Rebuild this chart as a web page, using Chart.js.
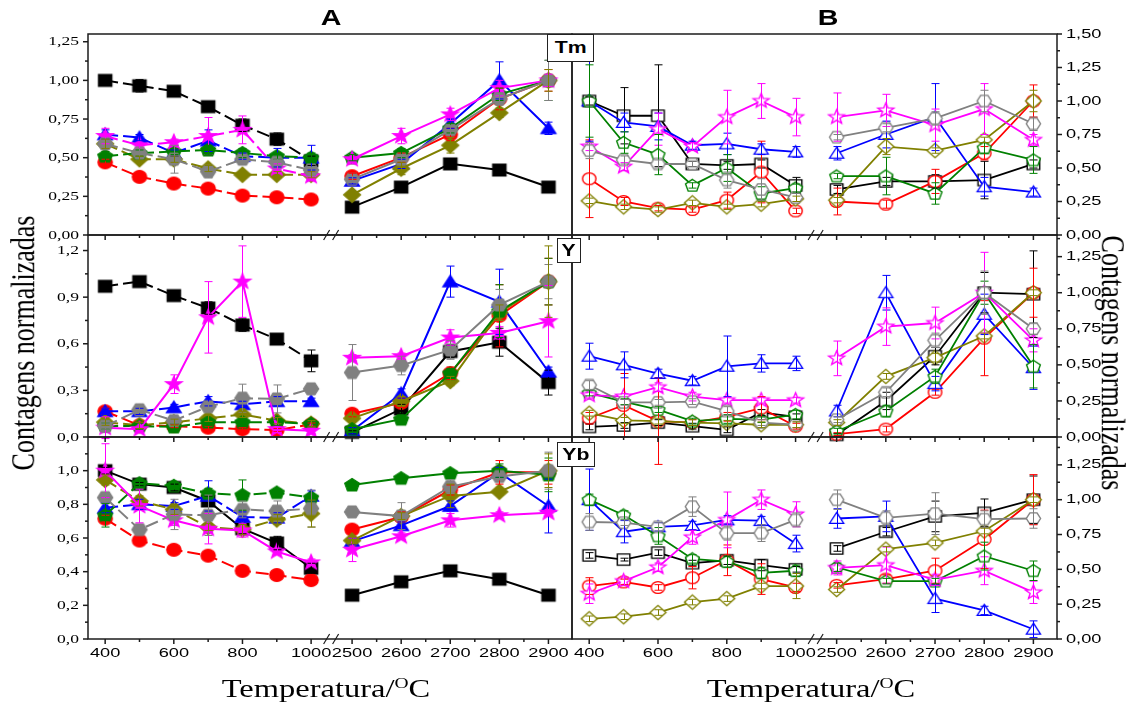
<!DOCTYPE html>
<html lang="pt">
<head>
<meta charset="utf-8">
<title>Contagens normalizadas vs Temperatura</title>
<script src="https://cdn.jsdelivr.net/npm/chart.js"></script>
<style>
html,body{margin:0;padding:0;background:#fff;}
body{width:1134px;height:702px;position:relative;overflow:hidden;}
canvas{position:absolute;left:0;top:0;}
.serif{position:absolute;font-family:"Liberation Serif","Times New Roman",serif;color:#000;white-space:nowrap;text-align:center;}
.sup{position:relative;top:-9px;font-size:15px;line-height:0;}
.head{position:absolute;font-family:"Liberation Sans",Arial,sans-serif;font-weight:bold;font-size:22px;line-height:26px;text-align:center;transform:scaleX(1.3);}
.box{position:absolute;background:#fff;border:1.3px solid #222;font-family:"Liberation Sans",Arial,sans-serif;font-weight:bold;font-size:17px;display:flex;align-items:center;justify-content:center;box-sizing:border-box;z-index:5;}
.box span{display:inline-block;transform:scaleX(1.25);}
</style>
</head>
<body>
<canvas id="c0" width="1134" height="702"></canvas>
<canvas id="c1" width="1134" height="702"></canvas>
<canvas id="c2" width="1134" height="702"></canvas>
<canvas id="c3" width="1134" height="702"></canvas>
<canvas id="c4" width="1134" height="702"></canvas>
<canvas id="c5" width="1134" height="702"></canvas>

<div class="head" style="left:301px;top:5px;width:60px;">A</div>
<div class="head" style="left:798px;top:5px;width:60px;">B</div>
<div class="box" style="left:547px;top:34px;width:47px;height:28px;"><span>Tm</span></div>
<div class="box" style="left:557px;top:238px;width:24px;height:25px;"><span>Y</span></div>
<div class="box" style="left:557px;top:442px;width:38px;height:25px;"><span>Yb</span></div>
<div class="serif" style="left:176px;top:672px;width:300px;height:34px;line-height:34px;font-size:25px;transform:scaleX(1.3);">Temperatura/<span class="sup">O</span>C</div>
<div class="serif" style="left:661px;top:672px;width:300px;height:34px;line-height:34px;font-size:25px;transform:scaleX(1.3);">Temperatura/<span class="sup">O</span>C</div>
<div class="serif" style="left:-126px;top:327px;width:300px;height:32px;line-height:32px;font-size:26px;transform:rotate(-90deg) scale(1,1.3);">Contagens normalizadas</div>
<div class="serif" style="left:962px;top:347px;width:300px;height:32px;line-height:32px;font-size:26px;transform:rotate(90deg) scale(1,1.3);">Contagens normalizadas</div>

<script>
// ---------------- DATA ----------------
const TEMPS_LOW  = [400, 500, 600, 700, 800, 900, 1000];
const TEMPS_HIGH = [2500, 2600, 2700, 2800, 2900];
const XTICK_LABELS_LOW  = ['400', '600', '800', '1000'];
const XTICK_LABELS_HIGH = ['2500', '2600', '2700', '2800', '2900'];
const XMINOR_LOW  = [500, 700, 900];
const XMINOR_HIGH = [2550, 2650, 2750, 2850];

const TM_A_YLABELS = ['0,00', '0,25', '0,50', '0,75', '1,00', '1,25'];
const TM_B_YLABELS = ['0,00', '0,25', '0,50', '0,75', '1,00', '1,25', '1,50'];
const Y_A_YLABELS  = ['0,0', '0,3', '0,6', '0,9', '1,2'];
const Y_B_YLABELS  = ['0,00', '0,25', '0,50', '0,75', '1,00', '1,25'];
const YB_A_YLABELS = ['0,0', '0,2', '0,4', '0,6', '0,8', '1,0'];
const YB_B_YLABELS = ['0,00', '0,25', '0,50', '0,75', '1,00', '1,25'];

// values: 7 low-temperature points followed by 5 high-temperature points
// --- Tm, panel A
const TM_A_SQUARE   = [1.00, 0.965, 0.93, 0.83, 0.71, 0.62, 0.48,  0.18, 0.31, 0.46, 0.42, 0.31];
const TM_A_SQUARE_ERR   = [0.01, 0.04, 0.02, 0.02, 0.04, 0.04, 0.03,  0.01, 0.01, 0.02, 0.02, 0.02];
const TM_A_CIRCLE   = [0.47, 0.376, 0.333, 0.30, 0.255, 0.244, 0.23,  0.38, 0.50, 0.65, 0.88, 1.00];
const TM_A_CIRCLE_ERR   = [0.02, 0.01, 0.01, 0.01, 0.01, 0.01, 0.01,  0.02, 0.03, 0.04, 0.07, 0.07];
const TM_A_TRIANGLE = [0.65, 0.63, 0.53, 0.61, 0.51, 0.50, 0.50,  0.35, 0.46, 0.72, 1.00, 0.69];
const TM_A_TRIANGLE_ERR = [0.03, 0.02, 0.02, 0.07, 0.02, 0.06, 0.08,  0.02, 0.03, 0.03, 0.12, 0.04];
const TM_A_STAR     = [0.64, 0.58, 0.60, 0.64, 0.68, 0.43, 0.38,  0.49, 0.64, 0.78, 0.95, 1.00];
const TM_A_STAR_ERR     = [0.05, 0.02, 0.02, 0.12, 0.09, 0.03, 0.03,  0.03, 0.05, 0.04, 0.05, 0.04];
const TM_A_PENTAGON = [0.51, 0.53, 0.54, 0.55, 0.53, 0.51, 0.50,  0.50, 0.53, 0.69, 0.91, 1.00];
const TM_A_PENTAGON_ERR = [0.03, 0.02, 0.02, 0.03, 0.03, 0.02, 0.03,  0.02, 0.03, 0.03, 0.04, 0.13];
const TM_A_HEXAGON  = [0.59, 0.53, 0.49, 0.41, 0.49, 0.47, 0.42,  0.36, 0.49, 0.68, 0.88, 1.00];
const TM_A_HEXAGON_ERR  = [0.03, 0.03, 0.09, 0.04, 0.02, 0.02, 0.02,  0.02, 0.03, 0.03, 0.04, 0.13];
const TM_A_DIAMOND  = [0.59, 0.49, 0.49, 0.43, 0.39, 0.39, 0.39,  0.26, 0.43, 0.58, 0.79, 1.00];
const TM_A_DIAMOND_ERR  = [0.03, 0.02, 0.02, 0.02, 0.02, 0.02, 0.02,  0.02, 0.04, 0.05, 0.03, 0.07];
// --- Tm, panel B
const TM_B_SQUARE   = [1.00, 0.89, 0.89, 0.53, 0.52, 0.53, 0.37,  0.34, 0.40, 0.40, 0.41, 0.53];
const TM_B_SQUARE_ERR   = [0.03, 0.21, 0.38, 0.02, 0.03, 0.03, 0.06,  0.03, 0.03, 0.05, 0.14, 0.03];
const TM_B_CIRCLE   = [0.42, 0.25, 0.20, 0.19, 0.26, 0.47, 0.18,  0.25, 0.23, 0.40, 0.61, 1.00];
const TM_B_CIRCLE_ERR   = [0.29, 0.03, 0.02, 0.02, 0.06, 0.23, 0.02,  0.10, 0.03, 0.09, 0.05, 0.12];
const TM_B_TRIANGLE = [1.00, 0.84, 0.81, 0.67, 0.68, 0.64, 0.62,  0.61, 0.75, 0.88, 0.36, 0.32];
const TM_B_TRIANGLE_ERR = [0.30, 0.07, 0.10, 0.03, 0.08, 0.04, 0.04,  0.05, 0.10, 0.25, 0.07, 0.03];
const TM_B_STAR     = [0.66, 0.51, 0.79, 0.66, 0.88, 1.00, 0.88,  0.88, 0.93, 0.82, 0.94, 0.71];
const TM_B_STAR_ERR     = [0.03, 0.03, 0.12, 0.03, 0.20, 0.13, 0.14,  0.18, 0.12, 0.12, 0.19, 0.04];
const TM_B_PENTAGON = [1.00, 0.69, 0.60, 0.37, 0.50, 0.31, 0.35,  0.44, 0.44, 0.31, 0.65, 0.56];
const TM_B_PENTAGON_ERR = [0.27, 0.08, 0.15, 0.02, 0.10, 0.05, 0.03,  0.02, 0.14, 0.08, 0.04, 0.10];
const TM_B_HEXAGON  = [0.63, 0.56, 0.53, 0.53, 0.41, 0.34, 0.28,  0.73, 0.80, 0.87, 1.00, 0.83];
const TM_B_HEXAGON_ERR  = [0.06, 0.03, 0.03, 0.02, 0.06, 0.08, 0.03,  0.02, 0.03, 0.05, 0.08, 0.05];
const TM_B_DIAMOND  = [0.255, 0.21, 0.19, 0.24, 0.21, 0.23, 0.27,  0.26, 0.66, 0.63, 0.71, 1.00];
const TM_B_DIAMOND_ERR  = [0.02, 0.02, 0.02, 0.02, 0.02, 0.02, 0.02,  0.02, 0.06, 0.02, 0.02, 0.08];
// --- Y, panel A
const Y_A_SQUARE   = [0.97, 1.00, 0.91, 0.83, 0.72, 0.63, 0.49,  0.03, 0.18, 0.55, 0.61, 0.35];
const Y_A_SQUARE_ERR   = [0.01, 0.01, 0.01, 0.04, 0.04, 0.01, 0.07,  0.01, 0.03, 0.04, 0.09, 0.08];
const Y_A_CIRCLE   = [0.165, 0.075, 0.07, 0.06, 0.05, 0.045, 0.08,  0.15, 0.22, 0.41, 0.78, 1.00];
const Y_A_CIRCLE_ERR   = [0.02, 0.02, 0.01, 0.01, 0.01, 0.01, 0.01,  0.02, 0.03, 0.04, 0.20, 0.15];
const Y_A_TRIANGLE = [0.165, 0.165, 0.19, 0.23, 0.21, 0.23, 0.23,  0.04, 0.28, 1.00, 0.87, 0.42];
const Y_A_TRIANGLE_ERR = [0.02, 0.02, 0.02, 0.03, 0.02, 0.03, 0.02,  0.02, 0.03, 0.10, 0.21, 0.03];
const Y_A_STAR     = [0.06, 0.05, 0.34, 0.77, 1.00, 0.05, 0.04,  0.51, 0.52, 0.64, 0.67, 0.745];
const Y_A_STAR_ERR     = [0.07, 0.02, 0.06, 0.23, 0.23, 0.02, 0.02,  0.02, 0.02, 0.05, 0.04, 0.23];
const Y_A_PENTAGON = [0.07, 0.07, 0.065, 0.095, 0.095, 0.095, 0.085,  0.05, 0.115, 0.41, 0.81, 1.00];
const Y_A_PENTAGON_ERR = [0.02, 0.02, 0.02, 0.02, 0.02, 0.02, 0.02,  0.02, 0.02, 0.03, 0.17, 0.15];
const Y_A_HEXAGON  = [0.07, 0.175, 0.105, 0.195, 0.25, 0.245, 0.31,  0.415, 0.46, 0.56, 0.85, 1.00];
const Y_A_HEXAGON_ERR  = [0.02, 0.02, 0.02, 0.03, 0.09, 0.09, 0.02,  0.18, 0.06, 0.06, 0.10, 0.11];
const Y_A_DIAMOND  = [0.095, 0.075, 0.095, 0.12, 0.145, 0.105, 0.085,  0.12, 0.23, 0.36, 0.80, 1.00];
const Y_A_DIAMOND_ERR  = [0.02, 0.02, 0.02, 0.02, 0.02, 0.02, 0.02,  0.02, 0.03, 0.03, 0.05, 0.23];
// --- Y, panel B
const Y_B_SQUARE   = [0.07, 0.08, 0.10, 0.075, 0.05, 0.17, 0.14,  0.015, 0.25, 0.56, 1.00, 0.99];
const Y_B_SQUARE_ERR   = [0.02, 0.02, 0.02, 0.02, 0.02, 0.02, 0.02,  0.01, 0.06, 0.06, 0.14, 0.30];
const Y_B_CIRCLE   = [0.13, 0.22, 0.11, 0.10, 0.14, 0.20, 0.075,  0.02, 0.055, 0.31, 0.685, 1.00];
const Y_B_CIRCLE_ERR   = [0.04, 0.22, 0.30, 0.02, 0.03, 0.08, 0.02,  0.01, 0.02, 0.02, 0.26, 0.17];
const Y_B_TRIANGLE = [0.56, 0.50, 0.44, 0.39, 0.49, 0.51, 0.51,  0.18, 1.00, 0.37, 0.85, 0.48];
const Y_B_TRIANGLE_ERR = [0.09, 0.09, 0.03, 0.03, 0.21, 0.06, 0.05,  0.04, 0.12, 0.05, 0.14, 0.15];
const Y_B_STAR     = [0.29, 0.28, 0.345, 0.28, 0.255, 0.255, 0.255,  0.545, 0.765, 0.79, 1.00, 0.67];
const Y_B_STAR_ERR     = [0.02, 0.02, 0.03, 0.03, 0.02, 0.02, 0.02,  0.12, 0.13, 0.11, 0.28, 0.08];
const Y_B_PENTAGON = [0.305, 0.245, 0.19, 0.11, 0.125, 0.12, 0.155,  0.04, 0.18, 0.42, 1.00, 0.49];
const Y_B_PENTAGON_ERR = [0.02, 0.02, 0.02, 0.02, 0.03, 0.02, 0.03,  0.02, 0.04, 0.05, 0.08, 0.15];
const Y_B_HEXAGON  = [0.36, 0.24, 0.24, 0.245, 0.18, 0.10, 0.085,  0.12, 0.31, 0.67, 1.00, 0.75];
const Y_B_HEXAGON_ERR  = [0.03, 0.02, 0.02, 0.02, 0.03, 0.02, 0.02,  0.02, 0.03, 0.05, 0.15, 0.04];
const Y_B_DIAMOND  = [0.165, 0.115, 0.11, 0.10, 0.095, 0.085, 0.085,  0.10, 0.42, 0.55, 0.70, 1.00];
const Y_B_DIAMOND_ERR  = [0.02, 0.02, 0.02, 0.02, 0.02, 0.02, 0.02,  0.02, 0.02, 0.03, 0.02, 0.02];
// --- Yb, panel A
const YB_A_SQUARE   = [1.00, 0.92, 0.90, 0.82, 0.655, 0.57, 0.42,  0.26, 0.34, 0.405, 0.355, 0.26];
const YB_A_SQUARE_ERR   = [0.02, 0.01, 0.02, 0.03, 0.03, 0.04, 0.03,  0.01, 0.01, 0.01, 0.03, 0.01];
const YB_A_CIRCLE   = [0.715, 0.585, 0.53, 0.495, 0.405, 0.38, 0.35,  0.65, 0.725, 0.885, 0.99, 0.99];
const YB_A_CIRCLE_ERR   = [0.02, 0.01, 0.01, 0.01, 0.01, 0.01, 0.01,  0.01, 0.03, 0.03, 0.07, 0.07];
const YB_A_TRIANGLE = [0.78, 0.80, 0.79, 0.85, 0.725, 0.72, 0.85,  0.58, 0.675, 0.79, 0.99, 0.79];
const YB_A_TRIANGLE_ERR = [0.03, 0.03, 0.02, 0.09, 0.03, 0.03, 0.03,  0.02, 0.02, 0.03, 0.03, 0.16];
const YB_A_STAR     = [1.00, 0.79, 0.705, 0.655, 0.645, 0.52, 0.455,  0.53, 0.61, 0.705, 0.735, 0.75];
const YB_A_STAR_ERR     = [0.16, 0.10, 0.03, 0.09, 0.04, 0.02, 0.02,  0.07, 0.02, 0.04, 0.02, 0.02];
const YB_A_PENTAGON = [0.735, 0.925, 0.91, 0.865, 0.855, 0.87, 0.84,  0.915, 0.955, 0.985, 1.00, 0.975];
const YB_A_PENTAGON_ERR = [0.07, 0.02, 0.02, 0.03, 0.09, 0.02, 0.02,  0.02, 0.01, 0.02, 0.04, 0.10];
const YB_A_HEXAGON  = [0.84, 0.65, 0.74, 0.735, 0.77, 0.76, 0.775,  0.755, 0.73, 0.905, 0.965, 1.00];
const YB_A_HEXAGON_ERR  = [0.03, 0.02, 0.09, 0.12, 0.05, 0.06, 0.11,  0.02, 0.08, 0.04, 0.02, 0.11];
const YB_A_DIAMOND  = [0.945, 0.82, 0.77, 0.665, 0.65, 0.71, 0.745,  0.585, 0.73, 0.85, 0.875, 1.00];
const YB_A_DIAMOND_ERR  = [0.03, 0.03, 0.03, 0.02, 0.03, 0.03, 0.08,  0.02, 0.02, 0.07, 0.02, 0.10];
// --- Yb, panel B
const YB_B_SQUARE   = [0.60, 0.57, 0.62, 0.545, 0.565, 0.53, 0.50,  0.65, 0.77, 0.88, 0.905, 1.00];
const YB_B_SQUARE_ERR   = [0.02, 0.01, 0.02, 0.02, 0.03, 0.04, 0.02,  0.02, 0.03, 0.11, 0.10, 0.17];
const YB_B_CIRCLE   = [0.38, 0.41, 0.37, 0.44, 0.565, 0.43, 0.37,  0.385, 0.43, 0.49, 0.715, 1.00];
const YB_B_CIRCLE_ERR   = [0.06, 0.02, 0.02, 0.08, 0.11, 0.11, 0.03,  0.02, 0.03, 0.09, 0.21, 0.18];
const YB_B_TRIANGLE = [1.00, 0.77, 0.805, 0.815, 0.855, 0.85, 0.685,  0.865, 0.88, 0.29, 0.205, 0.07];
const YB_B_TRIANGLE_ERR = [0.22, 0.08, 0.03, 0.03, 0.03, 0.03, 0.06,  0.07, 0.11, 0.10, 0.03, 0.06];
const YB_B_STAR     = [0.325, 0.415, 0.515, 0.73, 0.855, 1.00, 0.895,  0.51, 0.53, 0.425, 0.49, 0.335];
const YB_B_STAR_ERR     = [0.07, 0.03, 0.03, 0.05, 0.20, 0.07, 0.09,  0.05, 0.13, 0.04, 0.10, 0.08];
const YB_B_PENTAGON = [1.00, 0.89, 0.74, 0.575, 0.555, 0.475, 0.49,  0.515, 0.415, 0.415, 0.595, 0.49];
const YB_B_PENTAGON_ERR = [0.04, 0.03, 0.06, 0.03, 0.04, 0.04, 0.04,  0.03, 0.02, 0.02, 0.10, 0.07];
const YB_B_HEXAGON  = [0.84, 0.835, 0.805, 0.95, 0.76, 0.76, 0.855,  1.00, 0.87, 0.90, 0.86, 0.865];
const YB_B_HEXAGON_ERR  = [0.06, 0.02, 0.03, 0.07, 0.05, 0.06, 0.05,  0.07, 0.05, 0.15, 0.06, 0.07];
const YB_B_DIAMOND  = [0.145, 0.16, 0.19, 0.265, 0.29, 0.38, 0.38,  0.355, 0.645, 0.69, 0.775, 1.00];
const YB_B_DIAMOND_ERR  = [0.02, 0.02, 0.02, 0.02, 0.02, 0.02, 0.09,  0.02, 0.02, 0.02, 0.02, 0.02];

// ---------------- STYLE ----------------
const SERIES_KEYS = ['square', 'circle', 'triangle', 'star', 'pentagon', 'hexagon', 'diamond'];
const SERIES_COLORS = {square:'#000000', circle:'#ff0000', triangle:'#0000ff', star:'#ff00ff',
                       pentagon:'#008000', hexagon:'#808080', diamond:'#808000'};
const DRAW_RANK = {square:0, circle:1, triangle:2, diamond:3, pentagon:4, star:5, hexagon:6};
const AXIS_COLOR = '#1c1c1c';

const PANELS = [
  {rect:[88, 34, 572, 235],   yMax:1.30, yLabels:TM_A_YLABELS, side:'left',  open:false, xLabels:false, solidLow:[],
   vals:{square:TM_A_SQUARE, circle:TM_A_CIRCLE, triangle:TM_A_TRIANGLE, star:TM_A_STAR, pentagon:TM_A_PENTAGON, hexagon:TM_A_HEXAGON, diamond:TM_A_DIAMOND},
   errs:{square:TM_A_SQUARE_ERR, circle:TM_A_CIRCLE_ERR, triangle:TM_A_TRIANGLE_ERR, star:TM_A_STAR_ERR, pentagon:TM_A_PENTAGON_ERR, hexagon:TM_A_HEXAGON_ERR, diamond:TM_A_DIAMOND_ERR}},
  {rect:[572, 34, 1057, 235], yMax:1.50, yLabels:TM_B_YLABELS, side:'right', open:true, xLabels:false, solidLow:[],
   vals:{square:TM_B_SQUARE, circle:TM_B_CIRCLE, triangle:TM_B_TRIANGLE, star:TM_B_STAR, pentagon:TM_B_PENTAGON, hexagon:TM_B_HEXAGON, diamond:TM_B_DIAMOND},
   errs:{square:TM_B_SQUARE_ERR, circle:TM_B_CIRCLE_ERR, triangle:TM_B_TRIANGLE_ERR, star:TM_B_STAR_ERR, pentagon:TM_B_PENTAGON_ERR, hexagon:TM_B_HEXAGON_ERR, diamond:TM_B_DIAMOND_ERR}},
  {rect:[88, 235, 572, 437],  yMax:1.30, yLabels:Y_A_YLABELS, side:'left',  open:false, xLabels:false, solidLow:['star'],
   vals:{square:Y_A_SQUARE, circle:Y_A_CIRCLE, triangle:Y_A_TRIANGLE, star:Y_A_STAR, pentagon:Y_A_PENTAGON, hexagon:Y_A_HEXAGON, diamond:Y_A_DIAMOND},
   errs:{square:Y_A_SQUARE_ERR, circle:Y_A_CIRCLE_ERR, triangle:Y_A_TRIANGLE_ERR, star:Y_A_STAR_ERR, pentagon:Y_A_PENTAGON_ERR, hexagon:Y_A_HEXAGON_ERR, diamond:Y_A_DIAMOND_ERR}},
  {rect:[572, 235, 1057, 437], yMax:1.40, yLabels:Y_B_YLABELS, side:'right', open:true, xLabels:false, solidLow:[],
   vals:{square:Y_B_SQUARE, circle:Y_B_CIRCLE, triangle:Y_B_TRIANGLE, star:Y_B_STAR, pentagon:Y_B_PENTAGON, hexagon:Y_B_HEXAGON, diamond:Y_B_DIAMOND},
   errs:{square:Y_B_SQUARE_ERR, circle:Y_B_CIRCLE_ERR, triangle:Y_B_TRIANGLE_ERR, star:Y_B_STAR_ERR, pentagon:Y_B_PENTAGON_ERR, hexagon:Y_B_HEXAGON_ERR, diamond:Y_B_DIAMOND_ERR}},
  {rect:[88, 437, 572, 639],  yMax:1.20, yLabels:YB_A_YLABELS, side:'left',  open:false, xLabels:true, solidLow:['star', 'square'],
   vals:{square:YB_A_SQUARE, circle:YB_A_CIRCLE, triangle:YB_A_TRIANGLE, star:YB_A_STAR, pentagon:YB_A_PENTAGON, hexagon:YB_A_HEXAGON, diamond:YB_A_DIAMOND},
   errs:{square:YB_A_SQUARE_ERR, circle:YB_A_CIRCLE_ERR, triangle:YB_A_TRIANGLE_ERR, star:YB_A_STAR_ERR, pentagon:YB_A_PENTAGON_ERR, hexagon:YB_A_HEXAGON_ERR, diamond:YB_A_DIAMOND_ERR}},
  {rect:[572, 437, 1057, 639], yMax:1.45, yLabels:YB_B_YLABELS, side:'right', open:true, xLabels:true, solidLow:[],
   vals:{square:YB_B_SQUARE, circle:YB_B_CIRCLE, triangle:YB_B_TRIANGLE, star:YB_B_STAR, pentagon:YB_B_PENTAGON, hexagon:YB_B_HEXAGON, diamond:YB_B_DIAMOND},
   errs:{square:YB_B_SQUARE_ERR, circle:YB_B_CIRCLE_ERR, triangle:YB_B_TRIANGLE_ERR, star:YB_B_STAR_ERR, pentagon:YB_B_PENTAGON_ERR, hexagon:YB_B_HEXAGON_ERR, diamond:YB_B_DIAMOND_ERR}}
];

// ---------------- MARKERS ----------------
function makeMarker(shape, color, open, size) {
  const S = Math.ceil(size * 1.4) + 4;
  const c = document.createElement('canvas');
  c.width = S; c.height = S;
  const g = c.getContext('2d');
  g.translate(S / 2, S / 2);
  g.scale(1.12, 1);
  const r = size / 2;
  const poly = (n, rad, rot) => {
    for (let k = 0; k < n; k++) {
      const t = rot + k * 2 * Math.PI / n;
      const px = rad * Math.cos(t), py = rad * Math.sin(t);
      if (k) g.lineTo(px, py); else g.moveTo(px, py);
    }
    g.closePath();
  };
  g.beginPath();
  switch (shape) {
    case 'square': g.rect(-r * 0.86, -r * 0.86, r * 1.72, r * 1.72); break;
    case 'circle': g.arc(0, 0, r * 0.92, 0, Math.PI * 2); break;
    case 'triangle': g.translate(0, r * 0.18); poly(3, r * 1.12, -Math.PI / 2); break;
    case 'star':
      for (let k = 0; k < 10; k++) {
        const t = -Math.PI / 2 + k * Math.PI / 5;
        const rad = k % 2 ? r * 0.48 : r * 1.15;
        const px = rad * Math.cos(t), py = rad * Math.sin(t);
        if (k) g.lineTo(px, py); else g.moveTo(px, py);
      }
      g.closePath(); break;
    case 'pentagon': g.translate(0, r * 0.06); poly(5, r * 1.0, -Math.PI / 2); break;
    case 'hexagon': poly(6, r * 0.98, 0); break;
    case 'diamond': poly(4, r * 1.1, -Math.PI / 2); break;
  }
  g.fillStyle = open ? '#ffffff' : color;
  g.fill();
  g.lineWidth = open ? 1.25 : 1;
  g.strokeStyle = color;
  g.stroke();
  return c;
}

// ---------------- PLUGINS ----------------
function stretchedText(ctx, txt, x, y, align, font, sx) {
  ctx.save();
  ctx.font = font;
  ctx.textAlign = align;
  ctx.textBaseline = 'middle';
  ctx.translate(x, y);
  ctx.scale(sx, 1);
  ctx.fillText(txt, 0, 0);
  ctx.restore();
}

const errorBarPlugin = {
  id: 'errorBars',
  afterDatasetsDraw(chart) {
    const ctx = chart.ctx, ys = chart.scales.y;
    ctx.save();
    ctx.lineWidth = 1;
    chart.data.datasets.forEach(ds => {
      if (!ds.errors) return;
      const xs = chart.scales[ds.xAxisID];
      ctx.strokeStyle = ds.borderColor;
      ds.data.forEach((p, j) => {
        const e = ds.errors[j];
        if (!e) return;
        const px = Math.round(xs.getPixelForValue(p.x)) + 0.5;
        const y1 = ys.getPixelForValue(p.y + e), y2 = ys.getPixelForValue(p.y - e);
        ctx.beginPath();
        ctx.moveTo(px, y1); ctx.lineTo(px, y2);
        ctx.moveTo(px - 4, y1); ctx.lineTo(px + 4, y1);
        ctx.moveTo(px - 4, y2); ctx.lineTo(px + 4, y2);
        ctx.stroke();
      });
    });
    ctx.restore();
  }
};

const framePlugin = {
  id: 'panelFrame',
  afterDraw(chart, args, o) {
    const ctx = chart.ctx, a = chart.chartArea;
    const ys = chart.scales.y, xl = chart.scales.xL, xr = chart.scales.xR;
    const seg = (x1, y1, x2, y2) => { ctx.beginPath(); ctx.moveTo(x1, y1); ctx.lineTo(x2, y2); ctx.stroke(); };
    ctx.save();
    ctx.strokeStyle = AXIS_COLOR;
    ctx.fillStyle = '#000';
    ctx.lineWidth = 1.5;
    ctx.strokeRect(a.left, a.top, a.right - a.left, a.bottom - a.top);
    // y axis ticks + labels
    const left = o.side === 'left';
    const sx = left ? a.left : a.right, d = left ? -1 : 1;
    const vals = o.yLabels.map(s => parseFloat(s.replace(',', '.')));
    const font = left ? '13.5px "Liberation Serif", "Times New Roman", serif' : '13px "Liberation Sans", Arial, sans-serif';
    const stretch = left ? 1.3 : 1.4;
    vals.forEach((v, i) => {
      const py = ys.getPixelForValue(v);
      seg(sx, py, sx + d * 5, py);
      stretchedText(ctx, o.yLabels[i], sx + d * 9, py, left ? 'right' : 'left', font, stretch);
    });
    const step = vals[1] - vals[0];
    vals.forEach(v => {
      const mv = v + step / 2;
      if (mv < ys.max) { const py = ys.getPixelForValue(mv); seg(sx, py, sx + d * 3, py); }
    });
    // x axis ticks (outward, down)
    const b = a.bottom;
    XTICK_LABELS_LOW.forEach(t => { const px = xl.getPixelForValue(+t); seg(px, b, px, b + 5); });
    XMINOR_LOW.forEach(t => { const px = xl.getPixelForValue(t); seg(px, b, px, b + 3); });
    XTICK_LABELS_HIGH.forEach(t => { const px = xr.getPixelForValue(+t); seg(px, b, px, b + 5); });
    XMINOR_HIGH.forEach(t => { const px = xr.getPixelForValue(t); seg(px, b, px, b + 3); });
    if (o.xLabels) {
      const xf = '13px "Liberation Sans", Arial, sans-serif';
      XTICK_LABELS_LOW.forEach(t => stretchedText(ctx, t, xl.getPixelForValue(+t), b + 14, 'center', xf, 1.4));
      XTICK_LABELS_HIGH.forEach(t => stretchedText(ctx, t, xr.getPixelForValue(+t), b + 14, 'center', xf, 1.4));
    }
    // axis break marks
    const mid = (xl.getPixelForValue(+XTICK_LABELS_LOW[XTICK_LABELS_LOW.length - 1]) + xr.getPixelForValue(+XTICK_LABELS_HIGH[0])) / 2;
    ctx.lineWidth = 1.2;
    seg(mid - 8, b + 5, mid - 2, b - 5);
    seg(mid + 1, b + 5, mid + 7, b - 5);
    ctx.restore();
  }
};

// ---------------- CHARTS ----------------
const markerCache = {};
function marker(shape, open) {
  const k = shape + (open ? 'o' : 'f');
  if (!markerCache[k]) markerCache[k] = makeMarker(shape, SERIES_COLORS[shape], open, open ? 13 : 14);
  return markerCache[k];
}

PANELS.forEach((p, idx) => {
  const datasets = [];
  SERIES_KEYS.forEach(key => {
    const v = p.vals[key], e = p.errs[key];
    const color = SERIES_COLORS[key];
    const common = {
      borderColor: color,
      backgroundColor: color,
      borderWidth: p.open ? 1.8 : 2,
      pointStyle: marker(key, p.open),
      pointRadius: 6,
      pointHoverRadius: 6,
      tension: 0,
      clip: false,
      yAxisID: 'y',
      order: 100 - DRAW_RANK[key]
    };
    const dashed = !p.open && p.solidLow.indexOf(key) < 0;
    datasets.push(Object.assign({}, common, {
      label: key + ' low',
      xAxisID: 'xL',
      borderDash: dashed ? [13, 5] : [],
      data: TEMPS_LOW.map((t, i) => ({x: t, y: v[i]})),
      errors: TEMPS_LOW.map((t, i) => e[i])
    }));
    datasets.push(Object.assign({}, common, {
      label: key + ' high',
      xAxisID: 'xR',
      data: TEMPS_HIGH.map((t, i) => ({x: t, y: v[TEMPS_LOW.length + i]})),
      errors: TEMPS_HIGH.map((t, i) => e[TEMPS_LOW.length + i])
    }));
  });
  const [L, T, R, B] = p.rect;
  new Chart(document.getElementById('c' + idx), {
    type: 'line',
    data: {datasets},
    options: {
      responsive: false,
      animation: false,
      events: [],
      devicePixelRatio: 1,
      layout: {padding: {left: L, top: T, right: 1134 - R, bottom: 702 - B}},
      scales: {
        xL: {type: 'linear', display: false, min: 350, max: 1760},
        xR: {type: 'linear', display: false, min: 1962, max: 2948},
        y: {type: 'linear', display: false, min: 0, max: p.yMax}
      },
      plugins: {
        legend: {display: false},
        tooltip: {enabled: false},
        panelFrame: {side: p.side, yLabels: p.yLabels, xLabels: p.xLabels}
      }
    },
    plugins: [errorBarPlugin, framePlugin]
  });
});
</script>
</body>
</html>
